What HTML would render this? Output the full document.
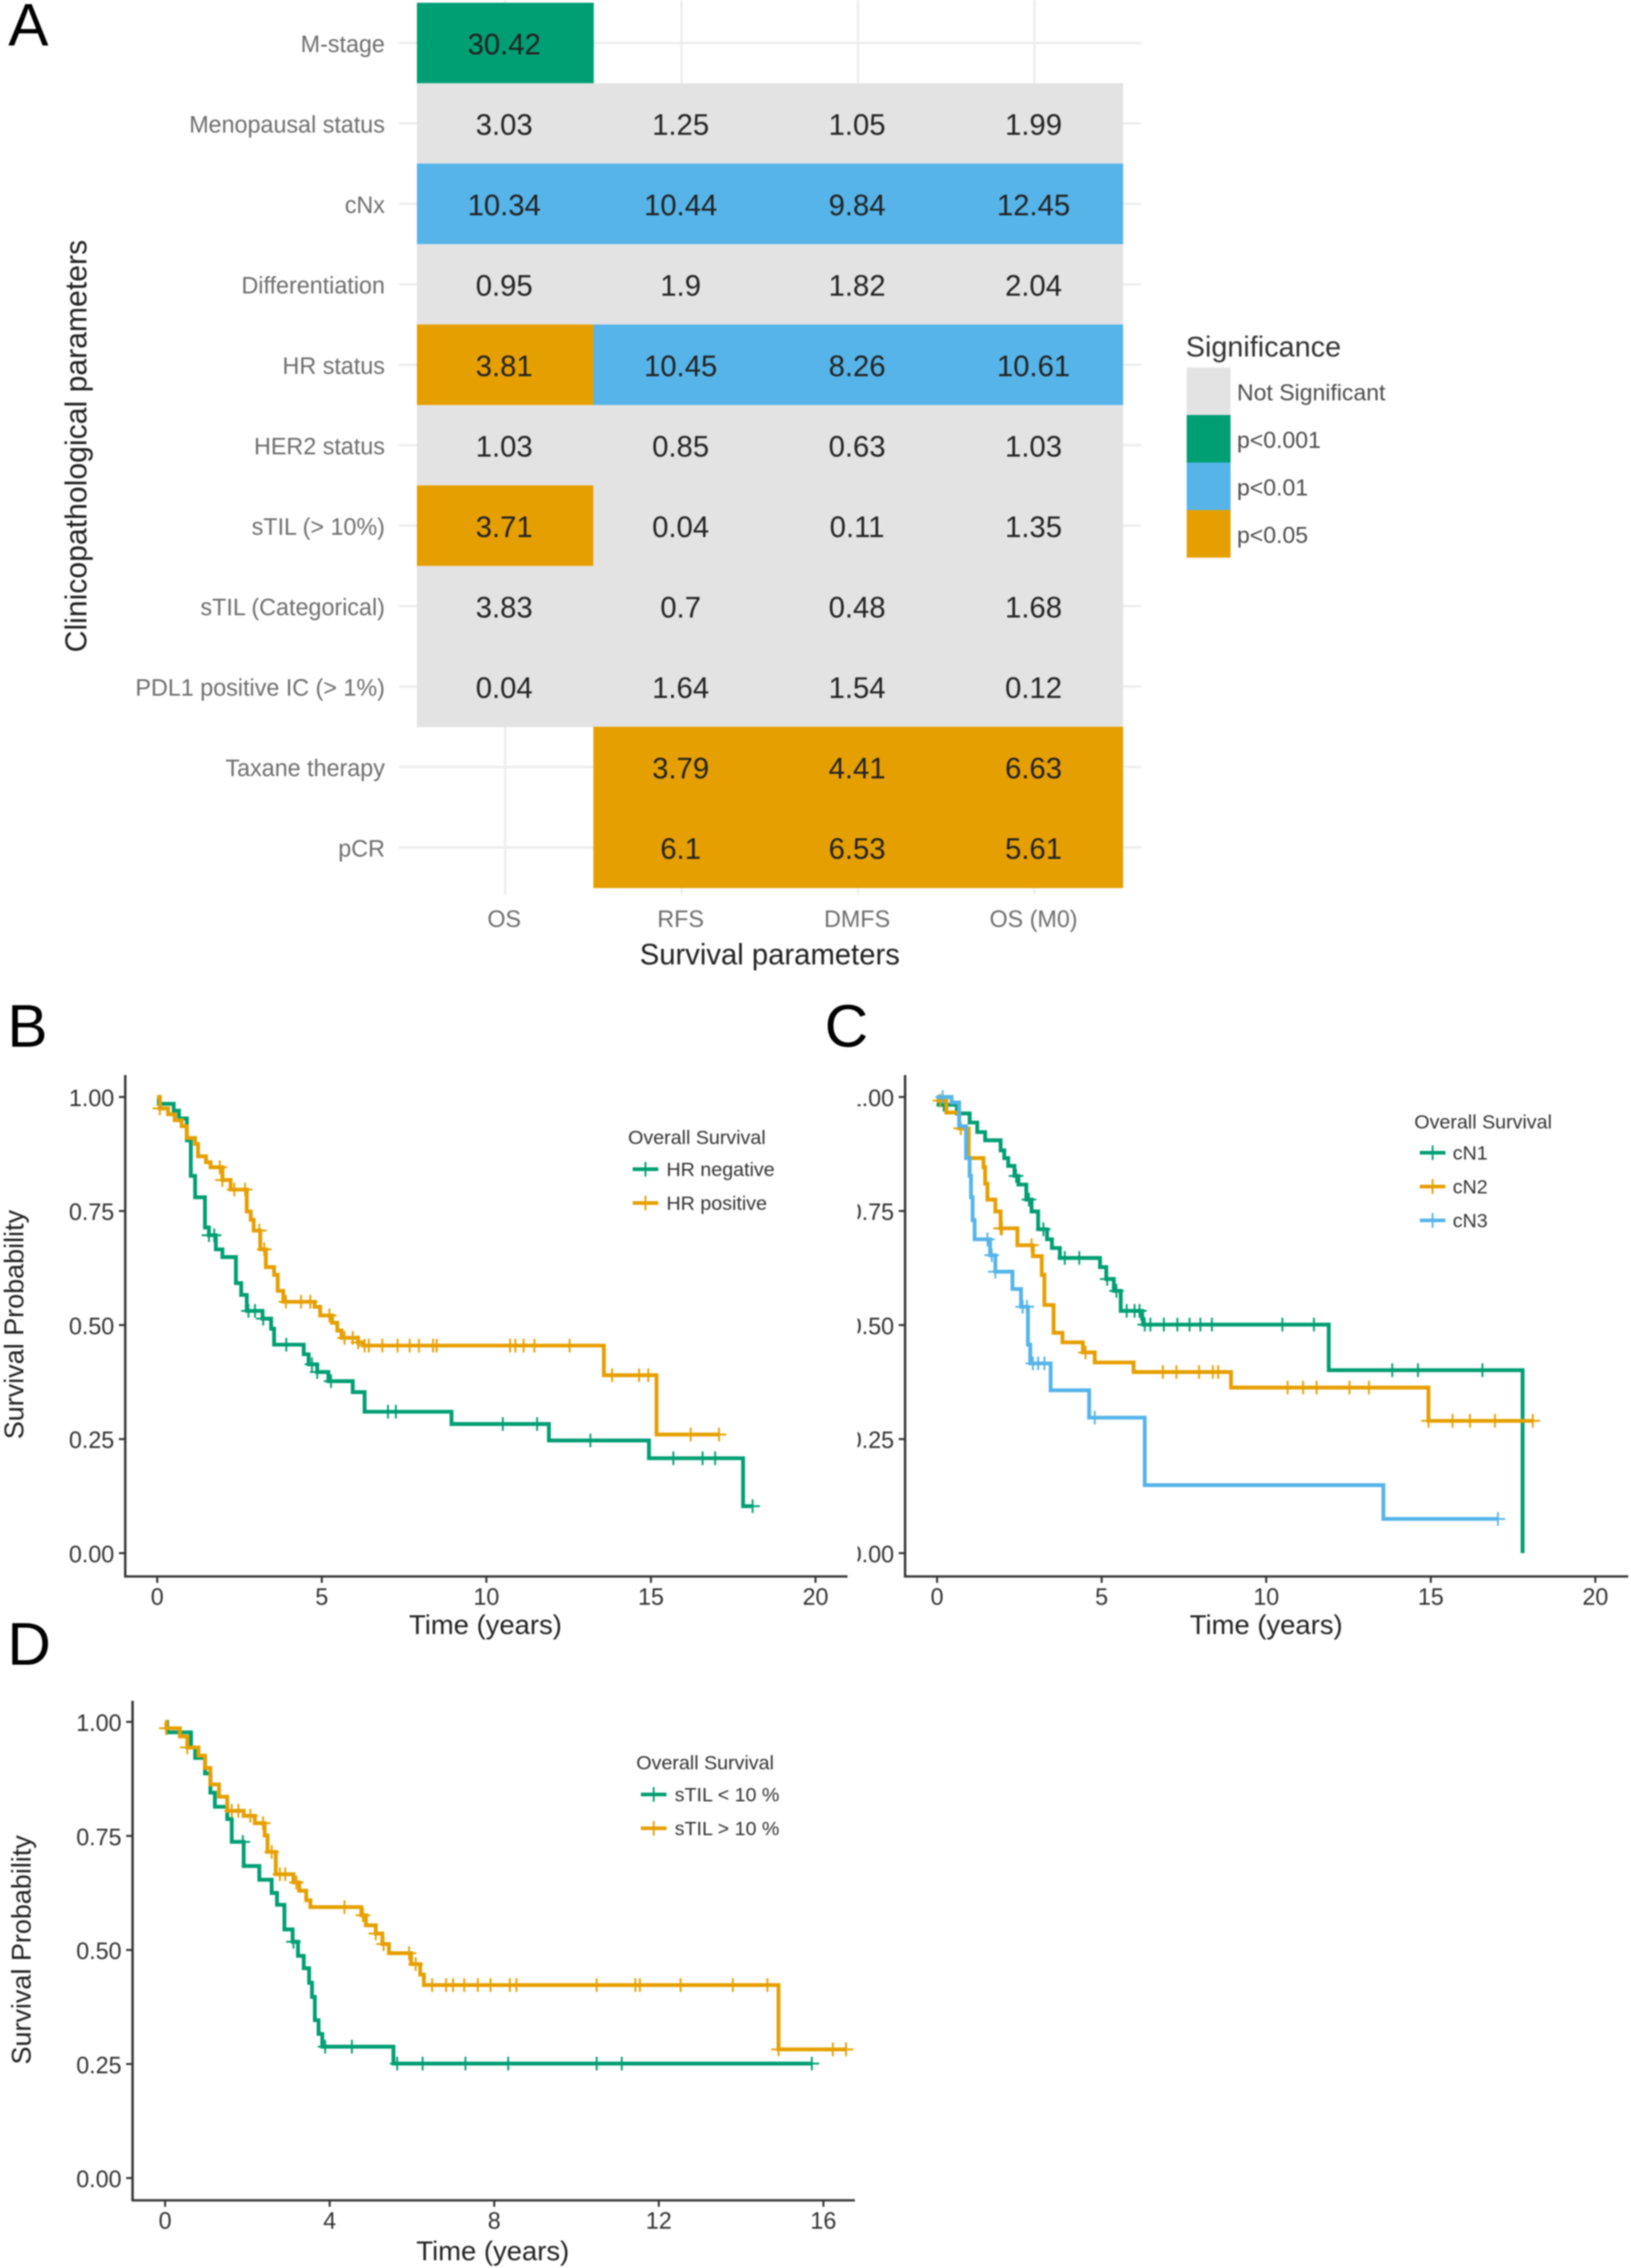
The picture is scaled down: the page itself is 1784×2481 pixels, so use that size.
<!DOCTYPE html>
<html lang="en">
<head>
<meta charset="utf-8">
<title>Survival analysis figure</title>
<style>
html,body{margin:0;padding:0;background:#fff;width:1784px;height:2481px;overflow:hidden}
svg{display:block;filter:blur(0.8px)}
text{font-family:"Liberation Sans",sans-serif}
.panel-letter{font-size:66px;fill:#000}
.axis-title{font-size:30px;fill:#222}
.heat-title{font-size:32px;fill:#222}
.heat-tick{font-size:25.5px;fill:#6e6e6e}
.legend-title{font-size:21.5px;fill:#333}
.legend-text{font-size:21.5px;fill:#333}
.sig-label{font-size:25.2px;fill:#4d4d4d}
</style>
</head>
<body>
<svg id="figure" xmlns="http://www.w3.org/2000/svg" width="1784" height="2481" viewBox="0 0 1784 2481">
  <rect width="1784" height="2481" fill="#fff"/>
  <defs>
    <clipPath id="c-label-clip"><rect x="938" y="1150" width="60" height="600"/></clipPath>
  </defs>

  <text class="panel-letter" x="9" y="50">A</text>
  <text class="panel-letter" x="8" y="1145">B</text>
  <text class="panel-letter" x="902" y="1145">C</text>
  <text class="panel-letter" x="8" y="1821">D</text>

  <g id="heatmap"></g>
  <text class="heat-title" transform="translate(83 488) rotate(-90)" text-anchor="middle" dy="0.35em" style="font-size:33px">Clinicopathological parameters</text>
  <text class="heat-title" x="842" y="1044" text-anchor="middle" dy="0.35em">Survival parameters</text>

  <g>
    <text class="axis-title" x="1297" y="379" dy="0.35em" style="font-size:31.5px;fill:#333">Significance</text>
    <rect x="1298" y="402" width="48" height="52" fill="#E3E3E3"/>
    <rect x="1298" y="454" width="48" height="52" fill="#009E73"/>
    <rect x="1298" y="506" width="48" height="52" fill="#56B4E9"/>
    <rect x="1298" y="558" width="48" height="52" fill="#E69F00"/>
    <text class="sig-label" x="1353" y="429" dy="0.35em">Not Significant</text>
    <text class="sig-label" x="1353" y="481" dy="0.35em">p&lt;0.001</text>
    <text class="sig-label" x="1353" y="533" dy="0.35em">p&lt;0.01</text>
    <text class="sig-label" x="1353" y="585" dy="0.35em">p&lt;0.05</text>
  </g>

  <g id="km-b"></g>
  <text class="axis-title" transform="translate(15 1449) rotate(-90)" text-anchor="middle" dy="0.35em" style="font-size:29.5px">Survival Probability</text>
  <text class="axis-title" x="531" y="1777" text-anchor="middle" dy="0.35em">Time (years)</text>
  <g>
    <text class="legend-title" x="687" y="1244" dy="0.35em">Overall Survival</text>
    <g stroke="#009E73">
      <path d="M692 1279H720" stroke-width="4"/><path d="M706 1271V1287" stroke-width="2"/>
      <text class="legend-text" x="729" y="1279" dy="0.35em" stroke="none">HR negative</text>
    </g>
    <g stroke="#E69F00">
      <path d="M692 1316H720" stroke-width="4"/><path d="M706 1308V1324" stroke-width="2"/>
      <text class="legend-text" x="729" y="1316" dy="0.35em" stroke="none">HR positive</text>
    </g>
  </g>

  <g id="km-c"></g>
  <text class="axis-title" x="1385" y="1777" text-anchor="middle" dy="0.35em">Time (years)</text>
  <g>
    <text class="legend-title" x="1547" y="1227" dy="0.35em">Overall Survival</text>
    <g stroke="#009E73">
      <path d="M1553 1261H1581" stroke-width="4"/><path d="M1567 1253V1269" stroke-width="2"/>
      <text class="legend-text" x="1589" y="1261" dy="0.35em" stroke="none">cN1</text>
    </g>
    <g stroke="#E69F00">
      <path d="M1553 1298H1581" stroke-width="4"/><path d="M1567 1290V1306" stroke-width="2"/>
      <text class="legend-text" x="1589" y="1298" dy="0.35em" stroke="none">cN2</text>
    </g>
    <g stroke="#56B4E9">
      <path d="M1553 1335H1581" stroke-width="4"/><path d="M1567 1327V1343" stroke-width="2"/>
      <text class="legend-text" x="1589" y="1335" dy="0.35em" stroke="none">cN3</text>
    </g>
  </g>

  <g id="km-d"></g>
  <text class="axis-title" transform="translate(23 2133) rotate(-90)" text-anchor="middle" dy="0.35em" style="font-size:29.5px">Survival Probability</text>
  <text class="axis-title" x="539" y="2462" text-anchor="middle" dy="0.35em">Time (years)</text>
  <g>
    <text class="legend-title" x="696" y="1928" dy="0.35em">Overall Survival</text>
    <g stroke="#009E73">
      <path d="M701 1963H729" stroke-width="4"/><path d="M715 1955V1971" stroke-width="2"/>
      <text class="legend-text" x="738" y="1963" dy="0.35em" stroke="none">sTIL &lt; 10 %</text>
    </g>
    <g stroke="#E69F00">
      <path d="M701 2000H729" stroke-width="4"/><path d="M715 1992V2008" stroke-width="2"/>
      <text class="legend-text" x="738" y="2000" dy="0.35em" stroke="none">sTIL &gt; 10 %</text>
    </g>
  </g>
</svg>

<script>
/* ---------- Panel A data ---------- */
const heatRows = ["M-stage","Menopausal status","cNx","Differentiation","HR status","HER2 status","sTIL (> 10%)","sTIL (Categorical)","PDL1 positive IC (> 1%)","Taxane therapy","pCR"];
const heatCols = ["OS","RFS","DMFS","OS (M0)"];
const heatValues = [
  ["30.42",null,null,null],
  ["3.03","1.25","1.05","1.99"],
  ["10.34","10.44","9.84","12.45"],
  ["0.95","1.9","1.82","2.04"],
  ["3.81","10.45","8.26","10.61"],
  ["1.03","0.85","0.63","1.03"],
  ["3.71","0.04","0.11","1.35"],
  ["3.83","0.7","0.48","1.68"],
  ["0.04","1.64","1.54","0.12"],
  [null,"3.79","4.41","6.63"],
  [null,"6.1","6.53","5.61"]
];
const heatSignificance = [
  ["p001",null,null,null],
  ["ns","ns","ns","ns"],
  ["p01","p01","p01","p01"],
  ["ns","ns","ns","ns"],
  ["p05","p01","p01","p01"],
  ["ns","ns","ns","ns"],
  ["p05","ns","ns","ns"],
  ["ns","ns","ns","ns"],
  ["ns","ns","ns","ns"],
  [null,"p05","p05","p05"],
  [null,"p05","p05","p05"]
];

/* ---------- Shared KM axis data ---------- */
const yTickValues = [0,0.25,0.5,0.75,1];
const yTickLabels = ["0.00","0.25","0.50","0.75","1.00"];
const xTicksBC = [0,5,10,15,20];
const xTicksD = [0,4,8,12,16];

/* ---------- Panel B ---------- */
const hrNegTimes = [0.05,0.5,0.66,0.9,1.02,1.15,1.45,1.57,1.78,1.98,2.39,2.55,2.72,3.2,3.46,3.55,4.45,4.6,4.86,5.2,5.94,6.3,8.94,11.9,14.94,17.8];
const hrNegSurv = [0.985,0.97,0.953,0.905,0.827,0.78,0.714,0.697,0.666,0.649,0.592,0.566,0.531,0.514,0.492,0.457,0.436,0.414,0.397,0.377,0.353,0.31,0.283,0.247,0.208,0.103];
const hrNegCensor = [1.57,1.73,2.77,2.97,3.22,3.92,4.7,4.86,5.28,7.01,7.25,10.5,11.54,13.16,15.68,16.57,16.95,18.09];
const hrPosTimes = [0.08,0.33,0.53,0.74,0.9,1.15,1.24,1.48,1.62,1.98,2.23,2.72,2.84,2.93,3.13,3.3,3.55,3.66,3.83,4.78,4.95,5.31,5.47,5.6,6.1,6.27,13.57,15.17];
const hrPosSurv = [0.975,0.962,0.949,0.936,0.91,0.897,0.87,0.857,0.846,0.818,0.797,0.749,0.731,0.707,0.666,0.627,0.61,0.575,0.551,0.54,0.521,0.505,0.488,0.472,0.462,0.455,0.39,0.26];
const hrPosCensor = [0.08,1.9,1.98,2.34,2.67,3.1,3.25,3.91,4.37,4.65,5.23,5.69,5.94,6.1,6.3,6.43,6.84,7.3,7.67,7.95,8.38,8.49,10.72,10.88,11.13,11.46,12.53,13.82,14.64,14.92,16.21,17.07];

/* ---------- Panel C ---------- */
const cn1Times = [0.05,0.6,0.99,1.22,1.46,1.93,2.04,2.16,2.35,2.47,2.71,2.87,3.07,3.34,3.49,3.73,4.95,5.14,5.37,5.58,6.23,6.26,11.9,17.79];
const cn1Surv = [0.983,0.964,0.944,0.923,0.905,0.883,0.866,0.849,0.827,0.808,0.775,0.749,0.71,0.688,0.669,0.647,0.627,0.601,0.575,0.531,0.514,0.501,0.401,0];
const cn1Censor = [0.2,2.4,2.79,3.23,3.88,4.32,5.17,5.45,5.76,6.0,6.15,6.31,6.48,6.89,7.3,7.67,8.0,8.35,10.49,11.45,13.83,14.61,16.57];
const cn2Times = [0.05,0.28,0.67,0.96,1.41,1.46,1.53,1.77,1.93,2.44,2.91,3.18,3.26,3.54,3.81,4.43,4.79,5.97,8.93,14.93];
const cn2Surv = [0.992,0.966,0.931,0.866,0.846,0.81,0.775,0.749,0.712,0.675,0.651,0.61,0.544,0.483,0.462,0.44,0.418,0.397,0.363,0.29];
const cn2Censor = [0.09,0.72,1.93,1.97,2.87,4.51,6.86,7.27,7.96,8.38,8.54,10.65,11.12,11.53,12.53,13.12,14.93,15.66,16.19,16.95,18.1];
const cn3Times = [0.44,0.67,0.88,0.99,1.03,1.08,1.14,1.61,1.77,2.29,2.55,2.76,2.83,3.45,4.62,6.31,13.56];
const cn3Surv = [0.988,0.936,0.866,0.827,0.78,0.73,0.688,0.653,0.617,0.579,0.54,0.457,0.416,0.357,0.297,0.149,0.075];
const cn3Censor = [0.17,1.53,1.66,1.77,2.6,2.73,2.91,3.07,3.26,4.79,17.04];

/* ---------- Panel D ---------- */
const tilLowTimes = [0.05,0.63,0.73,0.97,1.1,1.21,1.51,1.62,1.91,2.29,2.59,2.72,2.9,3.1,3.23,3.37,3.5,3.57,3.64,3.73,3.82,5.55];
const tilLowSurv = [0.977,0.944,0.921,0.887,0.845,0.814,0.787,0.737,0.684,0.654,0.625,0.599,0.545,0.518,0.487,0.46,0.428,0.397,0.346,0.316,0.288,0.251];
const tilLowCensor = [1.89,3.12,3.89,4.54,5.64,6.26,7.3,8.34,10.49,11.1,15.72];
const tilHighTimes = [0.03,0.36,0.54,0.81,0.97,1.1,1.31,1.51,1.91,2.18,2.42,2.49,2.69,3.12,3.26,3.43,3.53,4.77,4.88,5.12,5.28,5.44,5.98,6.2,6.29,14.91];
const tilHighSurv = [0.986,0.968,0.944,0.926,0.899,0.863,0.836,0.805,0.794,0.778,0.751,0.715,0.666,0.648,0.63,0.609,0.594,0.576,0.554,0.536,0.513,0.493,0.469,0.446,0.423,0.282];
const tilHighCensor = [0.03,0.54,1.62,1.78,2.07,2.38,2.59,2.79,2.92,3.19,4.36,4.81,5.12,5.31,5.93,6.09,6.49,6.83,7.0,7.27,7.6,7.91,8.38,8.54,10.49,11.43,11.54,12.53,13.8,14.64,14.91,16.23,16.55];

const SVGNS = "http://www.w3.org/2000/svg";
const sigColors = {ns:"#E3E3E3",p001:"#009E73",p01:"#56B4E9",p05:"#E69F00"};
const GREEN = "#009E73", ORANGE = "#E69F00", BLUE = "#56B4E9";

function mk(parent, tag, props, txt){
  const el = document.createElementNS(SVGNS, tag);
  for (const k in props) el.setAttribute(k, props[k]);
  if (txt !== undefined) el.textContent = txt;
  parent.appendChild(el);
  return el;
}

/* ---------- Draw panel A ---------- */
(function drawHeat(){
  const g = document.getElementById("heatmap");
  const left = 456, top = 3, colW = 193, rowH = 88;
  const colX = i => left + colW * i;
  const rowY = i => top + rowH * i;
  heatRows.forEach((r, i) => {
    const y = rowY(i) + rowH / 2;
    const line = mk(g, "path", {d:`M436 ${y}H1248`, stroke:"#EDEDED", "stroke-width":2.4, fill:"none"});
    
    
  });
  heatCols.forEach((c, j) => {
    const x = colX(j) + colW / 2;
    const line = mk(g, "path", {d:`M${x} 0V979`, stroke:"#EDEDED", "stroke-width":2.4, fill:"none"});
    
    
  });
  heatRows.forEach((r, i) => {
    const y = rowY(i) + rowH / 2 + 1;
    const lab = mk(g, "text", {class:"heat-tick", x:421, y:y, dy:"0.35em", "text-anchor":"end"}, r);
    
    
    heatCols.forEach((c, j) => {
      const sig = heatSignificance[i][j];
      if (sig === null) return;
      const cell = mk(g, "rect", {x:colX(j), y:rowY(i), width:colW + 0.5, height:rowH + 0.5, fill:sigColors[sig]});
      
      
    });
  });
  heatRows.forEach((r, i) => {
    heatCols.forEach((c, j) => {
      const v = heatValues[i][j];
      if (v === null) return;
      const t = mk(g, "text", {x:colX(j) + colW / 2 - 1, y:rowY(i) + rowH / 2 + 1.5, dy:"0.35em", "text-anchor":"middle", "font-size":32, fill:"#222"}, v);
      
      
    });
  });
  heatCols.forEach((c, j) => {
    const lab = mk(g, "text", {class:"heat-tick", x:colX(j) + colW / 2 - 1, y:1005, dy:"0.35em", "text-anchor":"middle"}, c);
    
    
  });
})();

/* ---------- Draw a Kaplan-Meier panel ---------- */
function survivalAt(times, surv, t){
  let s = 1;
  for (let i = 0; i < times.length; i++) { if (times[i] <= t) s = surv[i]; else break; }
  return s;
}
function drawKM(id, geom, xTicks, series, labelClip){
  const g = document.getElementById(id);
  const xs = t => geom.x0 + geom.xUnit * t;
  const ys = s => geom.y0 - geom.yUnit * s;
  const axis = mk(g, "path", {d:`M${geom.left} ${geom.top}V${geom.bottom}H${geom.right}`, fill:"none", stroke:"#333", "stroke-width":2.6});
  
  
  const labelGroup = mk(g, "g", labelClip ? {"clip-path":labelClip} : {});
  
  
  yTickValues.forEach((v, i) => {
    const tick = mk(g, "path", {d:`M${geom.left - 7} ${ys(v)}H${geom.left}`, stroke:"#333", "stroke-width":2.2});
    
    
    const lab = mk(labelGroup, "text", {x:geom.left - 12, y:ys(v) + 1, dy:"0.35em", "text-anchor":"end", "font-size":25.5, fill:"#333"}, yTickLabels[i]);
    
    
  });
  xTicks.forEach(v => {
    const tick = mk(g, "path", {d:`M${xs(v)} ${geom.bottom}V${geom.bottom + 7}`, stroke:"#333", "stroke-width":2.2});
    
    
    const lab = mk(g, "text", {x:xs(v), y:geom.bottom + 22, dy:"0.35em", "text-anchor":"middle", "font-size":25.5, fill:"#333"}, String(v));
    
    
  });
  series.forEach(se => {
    let d = `M${xs(0)} ${ys(1)}`;
    se.times.forEach((t, i) => { d += `H${xs(t)}V${ys(se.surv[i])}`; });
    const endT = Math.max(se.times[se.times.length - 1], se.censor[se.censor.length - 1]);
    d += `H${xs(endT)}`;
    const line = mk(g, "path", {d:d, fill:"none", stroke:se.color, "stroke-width":4.2});
    
    
    se.censor.forEach(t => {
      const cx = xs(t), cy = ys(survivalAt(se.times, se.surv, t));
      const plus = mk(g, "path", {d:`M${cx - 8} ${cy}H${cx + 8}M${cx} ${cy - 7.5}V${cy + 7.5}`, fill:"none", stroke:se.color, "stroke-width":2});
      
      
    });
  });
}

drawKM("km-b", {x0:172, xUnit:36, y0:1699, yUnit:499, left:137, right:927, top:1176, bottom:1724.5}, xTicksBC, [
  {name:"hr-negative", times:hrNegTimes, surv:hrNegSurv, censor:hrNegCensor, color:GREEN},
  {name:"hr-positive", times:hrPosTimes, surv:hrPosSurv, censor:hrPosCensor, color:ORANGE}
]);
drawKM("km-c", {x0:1025, xUnit:36, y0:1699, yUnit:499, left:990, right:1781, top:1176, bottom:1724.5}, xTicksBC, [
  {name:"cn1", times:cn1Times, surv:cn1Surv, censor:cn1Censor, color:GREEN},
  {name:"cn2", times:cn2Times, surv:cn2Surv, censor:cn2Censor, color:ORANGE},
  {name:"cn3", times:cn3Times, surv:cn3Surv, censor:cn3Censor, color:BLUE}
], "url(#c-label-clip)");
drawKM("km-d", {x0:180.6, xUnit:45, y0:2382.6, yUnit:499, left:145, right:935, top:1860.5, bottom:2407}, xTicksD, [
  {name:"stil-low", times:tilLowTimes, surv:tilLowSurv, censor:tilLowCensor, color:GREEN},
  {name:"stil-high", times:tilHighTimes, surv:tilHighSurv, censor:tilHighCensor, color:ORANGE}
]);
</script>
</body>
</html>
